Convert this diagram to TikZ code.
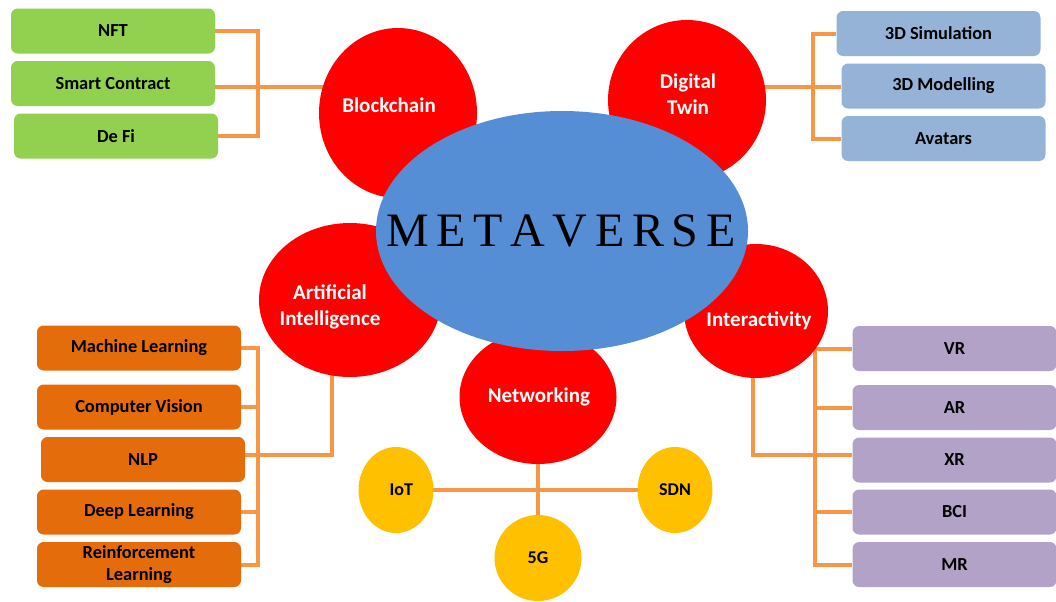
\documentclass[tikz,border=0pt]{standalone}
\usepackage{fontspec}
\setmainfont{Carlito}
\newfontfamily\titlefont{Liberation Serif}
\usetikzlibrary{shapes.geometric,backgrounds}
\definecolor{hubred}{HTML}{FF0000}
\definecolor{hubblue}{HTML}{558ED5}
\definecolor{leafgreen}{HTML}{92D050}
\definecolor{leafblue}{HTML}{95B3D7}
\definecolor{leaforange}{HTML}{E46C0A}
\definecolor{leafpurple}{HTML}{B3A2C7}
\definecolor{nodeyellow}{HTML}{FFC000}
\definecolor{wirecol}{HTML}{F79646}
\newcommand{\gap}{\kern5.7pt}
\begin{document}
\begin{tikzpicture}[x=0.75pt,y=-0.75pt,
  leaf/.style={rounded corners=5pt, minimum width=153pt, minimum height=33.75pt,
    inner sep=0pt, align=center,
    font=\fontsize{13.8pt}{16pt}\selectfont\bfseries},
  hub/.style={ellipse, fill=hubred, inner sep=0pt},
  hublabel/.style={text=white, align=center,
    font=\fontsize{15.75pt}{19.5pt}\selectfont\bfseries},
  tech/.style={ellipse, fill=nodeyellow, inner sep=0pt,
    font=\fontsize{13.5pt}{16pt}\selectfont\bfseries},
  wire/.style={draw=wirecol, line width=3pt}]
\useasboundingbox (0,0) rectangle (1056,601);

% topic circles around the core
\node[hub, minimum width=118.5pt, minimum height=127.5pt] (bc) at (398,113) {};
\node[hub, minimum width=118.5pt, minimum height=120pt] (dt) at (687,100) {};
\node[hub, minimum width=136.5pt, minimum height=115.5pt] (ai) at (350,300) {};
\node[hub, minimum width=108pt, minimum height=100.5pt] (ia) at (756,311) {};
\node[hub, minimum width=117.75pt, minimum height=100.5pt] (net) at (538,397) {};

% core
\node[ellipse, fill=hubblue, inner sep=0pt, minimum width=279pt, minimum height=180pt] (core) at (562,231) {};
\node (coretext) at (561,231) {\titlefont\fontsize{36pt}{40pt}\selectfont M\gap E\gap T\gap A\gap V\gap E\gap R\gap S\gap E};

% circle labels
\node[hublabel] (bct) at (389,105) {Blockchain};
\node[hublabel] (dtt) at (688,94) {Digital\\Twin};
\node[hublabel] (ait) at (330,307) {Artificial\\Intelligence};
\node[hublabel] (iat) at (759,321) {Interactivity};
\node[hublabel] (nett) at (539,397) {Networking};

% networking technologies
\node[tech, minimum width=56.25pt, minimum height=64.5pt] (iot) at (396,490) {\hspace{8pt}IoT};
\node[tech, minimum width=56.25pt, minimum height=64.5pt] (sdn) at (675,490) {SDN};
\node[tech, minimum width=65.25pt, minimum height=64.5pt] (g5) at (538,558) {5G};

% blockchain leaves
\node[leaf, fill=leafgreen] (nft) at (113,31) {NFT};
\node[leaf, fill=leafgreen] (smart) at (113,83.5) {Smart Contract};
\node[leaf, fill=leafgreen] (defi) at (116,136) {De Fi};

% digital twin leaves
\node[leaf, fill=leafblue] (sim) at (938.5,33.5) {3D Simulation};
\node[leaf, fill=leafblue] (mod) at (943.5,86) {3D Modelling};
\node[leaf, fill=leafblue] (av) at (943.5,138.5) {Avatars};

% AI leaves
\node[leaf, fill=leaforange] (ml) at (139,348) {Machine Learning};
\node[leaf, fill=leaforange] (cv) at (139,407) {Computer Vision};
\node[leaf, fill=leaforange] (nlp) at (143,459.5) {NLP};
\node[leaf, fill=leaforange] (dl) at (139,512) {Deep Learning};
\node[leaf, fill=leaforange] (rl) at (139,564.5) {Reinforcement\\Learning};

% interactivity leaves
\node[leaf, fill=leafpurple] (vr) at (954.5,348.5) {VR};
\node[leaf, fill=leafpurple] (ar) at (954.5,407.5) {AR};
\node[leaf, fill=leafpurple] (xr) at (954.5,460) {XR};
\node[leaf, fill=leafpurple] (bci) at (954.5,512) {BCI};
\node[leaf, fill=leafpurple] (mr) at (954.5,564.5) {MR};

% bus junctions
\coordinate (gbus) at (258,87);
\coordinate (bbus) at (813,87);
\coordinate (obus) at (258,455);
\coordinate (aij) at (332,455);
\coordinate (pbus) at (815,455);
\coordinate (iaj) at (753,455);

\begin{scope}[on background layer]
  \fill[white] (0,0) rectangle (1056,601);

  \draw[wire] (nft.east) -| (gbus) |- (defi.east);
  \draw[wire] (smart.east |- gbus) -- (gbus -| bc.center);

  \draw[wire] (sim.west) -| (bbus) |- (av.west);
  \draw[wire] (mod.west |- bbus) -- (bbus -| dt.center);

  \draw[wire] (ml.east) -| (obus) |- (rl.east);
  \draw[wire] (cv.east) -- (cv.east -| obus);
  \draw[wire] (dl.east) -- (dl.east -| obus);
  \draw[wire] (nlp.east |- aij) -- (aij) -- (aij |- ai.center);

  \draw[wire] (vr.west) -| (pbus) |- (mr.west);
  \draw[wire] (ar.west) -- (ar.west -| pbus);
  \draw[wire] (bci.west) -- (bci.west -| pbus);
  \draw[wire] (xr.west |- iaj) -- (iaj) -- (iaj |- ia.center);

  \draw[wire] (net.center) -- (g5.center);
  \draw[wire] (iot.center) -- (sdn.center);
\end{scope}
\end{tikzpicture}
\end{document}
